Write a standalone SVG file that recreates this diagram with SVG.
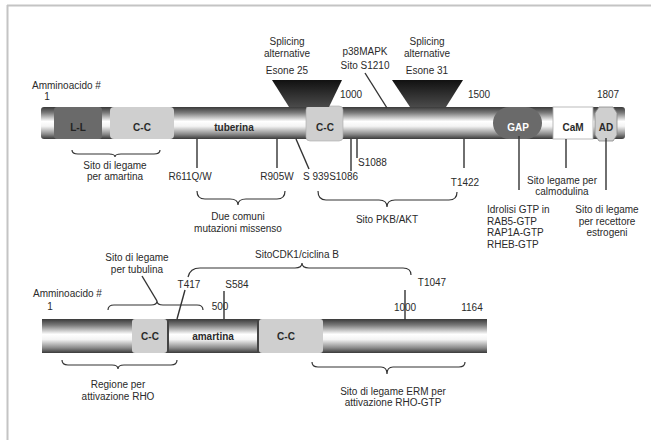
<svg xmlns="http://www.w3.org/2000/svg" width="651" height="440" viewBox="0 0 651 440">
<defs>
<linearGradient id="bar" x1="0" y1="0" x2="0" y2="1">
<stop offset="0" stop-color="#3a3a3a"/>
<stop offset="0.18" stop-color="#7a7a7a"/>
<stop offset="0.45" stop-color="#ffffff"/>
<stop offset="0.6" stop-color="#f4f4f4"/>
<stop offset="0.85" stop-color="#8a8a8a"/>
<stop offset="1" stop-color="#3a3a3a"/>
</linearGradient>
<linearGradient id="tri" x1="0" y1="0" x2="0" y2="1">
<stop offset="0" stop-color="#111"/>
<stop offset="1" stop-color="#4a4a4a"/>
</linearGradient>
</defs>
<style>
text{font-family:"Liberation Sans",Arial,sans-serif;font-size:10px;fill:#2a2a2a}
.c{text-anchor:middle}
.b{font-weight:bold}
.ln{stroke:#333;stroke-width:1.4;fill:none}
.br{stroke:#333;stroke-width:1.2;fill:none}
.lg{fill:#cfcfcf}
.dg{fill:#6a6a6a}
</style>
<g id="frame">
<line x1="7" y1="5.5" x2="651" y2="5.5" stroke="#c4c4c4" stroke-width="2"/>
<line x1="7.5" y1="5" x2="7.5" y2="440" stroke="#c4c4c4" stroke-width="2"/>
</g>
<g id="tsc2">
<rect x="41" y="107" width="584" height="32" rx="3" fill="url(#bar)"/>
<g id="ll"><rect x="54" y="107" width="48" height="32" rx="3" class="dg"/><text x="78" y="131" class="c b" style="fill:#222">L-L</text></g>
<g id="cc1"><rect x="110" y="107" width="64" height="32" rx="4" class="lg"/><text x="142" y="131" class="c b">C-C</text></g>
<g id="tuberina"><text x="234" y="131" class="c b">tuberina</text></g>
<g id="cc2"><rect x="306" y="106" width="37" height="35" rx="4" class="lg" stroke="#aaa" stroke-width="0.6"/><text x="325" y="131" class="c b">C-C</text></g>
<g id="gap"><rect x="493" y="107" width="49" height="32" rx="16" class="dg"/><text x="518" y="131" class="c b" style="fill:#fff">GAP</text></g>
<g id="cam"><rect x="553" y="107" width="40" height="32" fill="#fff" stroke="#aaa" stroke-width="0.8"/><text x="573" y="131" class="c b">CaM</text></g>
<g id="ad"><polygon points="599,107 613,107 617,113 617,135 613,141 599,141 595,135 595,113" class="lg" stroke="#888" stroke-width="0.8"/><text x="606" y="131" class="c b">AD</text></g>
</g>
<g id="exon25"><polygon points="272,80 342,80 329,107 289,107" fill="url(#tri)"/>
<text x="287" y="45" class="c">Splicing</text><text x="287" y="57" class="c">alternative</text><text x="287" y="74" class="c">Esone 25</text></g>
<g id="exon31"><polygon points="392,80 463,80 446,107 410,107" fill="url(#tri)"/>
<text x="427" y="45" class="c">Splicing</text><text x="427" y="57" class="c">alternative</text><text x="427" y="74" class="c">Esone 31</text></g>
<g id="top-labels">
<text x="32" y="89">Amminoacido #</text>
<text x="47" y="100" class="c">1</text>
<text x="351" y="98" class="c">1000</text>
<text x="479" y="98" class="c">1500</text>
<text x="608" y="98" class="c">1807</text>
<text x="365" y="55" class="c">p38MAPK</text>
<text x="365" y="69" class="c">Sito S1210</text>
<text x="115" y="169" class="c">Sito di legame</text>
<text x="115" y="180" class="c">per amartina</text>
<text x="190" y="180" class="c">R611Q/W</text>
<text x="277" y="180" class="c">R905W</text>
<text x="303" y="180">S 939S1086</text>
<text x="358" y="166">S1088</text>
<text x="465" y="186" class="c">T1422</text>
<text x="238" y="220" class="c">Due comuni</text>
<text x="238" y="232" class="c">mutazioni missenso</text>
<text x="387" y="223" class="c">Sito PKB/AKT</text>
<text x="487" y="213">Idrolisi GTP in</text>
<text x="487" y="224.5">RAB5-GTP</text>
<text x="487" y="236">RAP1A-GTP</text>
<text x="487" y="247.5">RHEB-GTP</text>
<text x="562" y="184" class="c">Sito legame per</text>
<text x="562" y="195" class="c">calmodulina</text>
<text x="607" y="213" class="c">Sito di legame</text>
<text x="607" y="224.5" class="c">per recettore</text>
<text x="607" y="236" class="c">estrogeni</text>
</g>
<g id="ham">
<rect x="42" y="319" width="445" height="34" fill="url(#bar)"/>
<g id="hcc1"><rect x="132" y="319" width="35" height="34" rx="3" class="lg"/><text x="150" y="340" class="c b">C-C</text></g>
<g id="hamartina"><line x1="168" y1="319" x2="168" y2="353" stroke="#444" stroke-width="2"/><line x1="258" y1="319" x2="258" y2="353" stroke="#444" stroke-width="2"/><text x="213" y="340" class="c b">amartina</text></g>
<g id="hcc2"><rect x="259" y="319" width="64" height="34" rx="3" class="lg"/><text x="286" y="340" class="c b">C-C</text></g>
</g>
<g id="bottom-labels">
<text x="33" y="297">Amminoacido #</text>
<text x="50" y="310" class="c">1</text>
<text x="137" y="261" class="c">Sito di legame</text>
<text x="137" y="273" class="c">per tubulina</text>
<text x="255" y="258">SitoCDK1/ciclina B</text>
<text x="189" y="288" class="c">T417</text>
<text x="237" y="288" class="c">S584</text>
<text x="220" y="310" class="c">500</text>
<text x="432" y="286" class="c">T1047</text>
<text x="405" y="311" class="c">1000</text>
<text x="472" y="311" class="c">1164</text>
<text x="118" y="388" class="c">Regione per</text>
<text x="118" y="400" class="c">attivazione RHO</text>
<text x="393" y="395" class="c">Sito di legame ERM per</text>
<text x="393" y="406" class="c">attivazione RHO-GTP</text>
</g>
<g id="connectors">
<line x1="365" y1="73" x2="387" y2="108" class="ln"/>
<line x1="197" y1="139" x2="197" y2="168" class="ln"/>
<line x1="277" y1="139" x2="277" y2="168" class="ln"/>
<line x1="296" y1="139" x2="309" y2="169" class="ln"/>
<line x1="351" y1="139" x2="351" y2="171" class="ln"/>
<line x1="357" y1="139" x2="357" y2="158" class="ln"/>
<line x1="464" y1="139" x2="464" y2="168" class="ln"/>
<line x1="519" y1="136" x2="519" y2="190" class="ln"/>
<line x1="566" y1="139" x2="566" y2="168" class="ln"/>
<line x1="606" y1="138" x2="606" y2="190" class="ln"/>
<path d="M72,150 Q72,154 78,154 L109,154 Q115,154 115,157 Q115,154 121,154 L154,154 Q160,154 160,150" class="br"/>
<path d="M197,191 Q197,199 205,199 L230,199 Q238,199 238,205 Q238,199 246,199 L277,199 Q285,199 285,191" class="br"/>
<path d="M318,191 Q318,200 326,200 L379,200 Q387,200 387,207 Q387,200 395,200 L449,200 Q457,200 457,192" class="br"/>
<line x1="142" y1="276" x2="157" y2="301" class="ln"/>
<path d="M108,310 Q108,305 114,305 L151,305 Q157,305 157,301 Q157,305 163,305 L197,305 Q203,305 203,310" class="br"/>
<path d="M188,277 Q190,268 200,268 L295,268 Q302,268 302,263 Q302,268 309,268 L403,268 Q411,268 411,275" class="br"/>
<line x1="185" y1="290" x2="177" y2="319" class="ln"/>
<line x1="224" y1="291" x2="224" y2="319" class="ln"/>
<line x1="405" y1="290" x2="405" y2="320" class="ln"/>
<path d="M62,360 Q62,365 68,365 L112,365 Q118,365 118,369 Q118,365 124,365 L171,365 Q177,365 177,360" class="br"/>
<path d="M312,362 Q312,367 318,367 L381,367 Q387,367 387,374 Q387,367 393,367 L459,367 Q465,367 465,362" class="br"/>
</g>
</svg>
